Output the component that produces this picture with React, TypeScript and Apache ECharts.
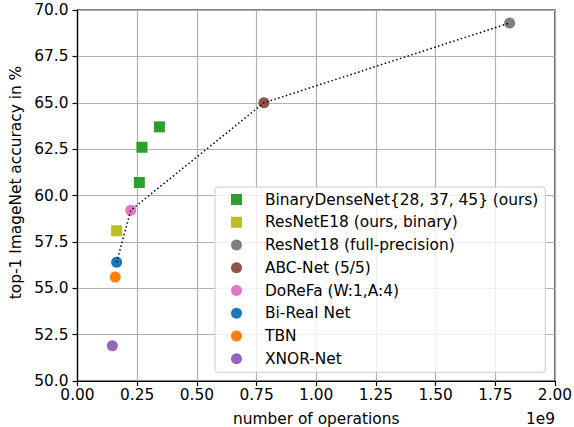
import React, { useEffect, useRef } from "react";
import * as echarts from "echarts";

// x values in units of 1e9 operations, y values = top-1 accuracy (%)
const binaryDenseNetX = [0.259, 0.27, 0.343];
const binaryDenseNetY = [60.7, 62.6, 63.7];
const resNetE18X = [0.164];
const resNetE18Y = [58.1];
const resNet18X = [1.81];
const resNet18Y = [69.3];
const abcNetX = [0.781];
const abcNetY = [65.0];
const doReFaX = [0.223];
const doReFaY = [59.2];
const biRealX = [0.164];
const biRealY = [56.4];
const tbnX = [0.158];
const tbnY = [55.6];
const xnorX = [0.146];
const xnorY = [51.9];

const xTicks = [0, 0.25, 0.5, 0.75, 1.0, 1.25, 1.5, 1.75, 2.0];
const yTicks = [50, 52.5, 55, 57.5, 60, 62.5, 65, 67.5, 70];

const FONT = "DejaVu Sans";
const FS = 15.4;

const zip = (xs: number[], ys: number[]) => xs.map((x, i) => [x, ys[i]]);

export default function App() {
  const ref = useRef<HTMLDivElement>(null);
  useEffect(() => {
    if (!ref.current) return;
    const chart = echarts.init(ref.current, null, { renderer: "svg" });
    const mk = (name: string, xs: number[], ys: number[], color: string, symbol: string) => ({
      name,
      type: "scatter",
      data: zip(xs, ys),
      symbol,
      symbolSize: 11,
      itemStyle: { color, opacity: 1 },
      z: 3,
    });
    const lineX = [biRealX[0], doReFaX[0], abcNetX[0], resNet18X[0]];
    const lineY = [biRealY[0], doReFaY[0], abcNetY[0], resNet18Y[0]];
    chart.setOption({
      animation: false,
      textStyle: { fontFamily: FONT },
      grid: {
        left: 77.5,
        right: 19,
        top: 10,
        bottom: 46,
        containLabel: false,
        outerBoundsMode: "none",
        show: true,
        borderColor: "#000",
        borderWidth: 1.2,
        backgroundColor: "transparent",
      },
      xAxis: {
        type: "value",
        min: xTicks[0],
        max: xTicks[xTicks.length - 1],
        interval: 0.25,
        name: "number of operations",
        nameLocation: "middle",
        nameGap: 30,
        nameTextStyle: { fontSize: FS, color: "#000", fontFamily: FONT },
        axisLine: { show: true, onZero: false, lineStyle: { color: "#000", width: 1.2 } },
        axisTick: { show: true, inside: false, length: 5, lineStyle: { color: "#000", width: 1.2 } },
        axisLabel: {
          fontSize: FS,
          color: "#000",
          margin: 6,
          fontFamily: FONT,
          formatter: (v: number) => v.toFixed(2),
        },
        splitLine: { show: true, lineStyle: { color: "#b0b0b0", width: 1.2 } },
      },
      yAxis: {
        type: "value",
        min: yTicks[0],
        max: yTicks[yTicks.length - 1],
        interval: 2.5,
        name: "top-1 ImageNet accuracy in %",
        nameLocation: "middle",
        nameGap: 52,
        nameTextStyle: {
          fontSize: FS,
          color: "#000",
          fontFamily: FONT,
          padding: [0, 0, 0, 26],
        },
        axisLine: { show: true, onZero: false, lineStyle: { color: "#000", width: 1.2 } },
        axisTick: { show: true, inside: false, length: 5, lineStyle: { color: "#000", width: 1.2 } },
        axisLabel: {
          fontSize: FS,
          color: "#000",
          margin: 9,
          fontFamily: FONT,
          formatter: (v: number) => v.toFixed(1),
        },
        splitLine: { show: true, lineStyle: { color: "#b0b0b0", width: 1.2 } },
      },
      legend: {
        orient: "vertical",
        left: 215,
        top: 187,
        padding: [5, 7, 6, 16],
        itemGap: 7.75,
        itemWidth: 11,
        itemHeight: 11,
        backgroundColor: "rgba(255,255,255,0.8)",
        borderColor: "#cccccc",
        borderWidth: 1,
        borderRadius: 3,
        textStyle: {
          fontSize: FS,
          color: "#000",
          fontFamily: FONT,
          lineHeight: 15,
          padding: [0, 0, 0, 18],
        },
        data: [
          { name: "BinaryDenseNet{28, 37, 45} (ours)", icon: "rect" },
          { name: "ResNetE18 (ours, binary)", icon: "rect" },
          { name: "ResNet18 (full-precision)", icon: "circle" },
          { name: "ABC-Net (5/5)", icon: "circle" },
          { name: "DoReFa (W:1,A:4)", icon: "circle" },
          { name: "Bi-Real Net", icon: "circle" },
          { name: "TBN", icon: "circle" },
          { name: "XNOR-Net", icon: "circle" },
        ],
      },
      graphic: [
        {
          type: "text",
          right: 19,
          top: 411,
          style: { text: "1e9", fontSize: FS, fill: "#000", fontFamily: FONT },
        },
      ],
      series: [
        mk("BinaryDenseNet{28, 37, 45} (ours)", binaryDenseNetX, binaryDenseNetY, "#2ca02c", "rect"),
        mk("ResNetE18 (ours, binary)", resNetE18X, resNetE18Y, "#bcbd22", "rect"),
        mk("ResNet18 (full-precision)", resNet18X, resNet18Y, "#7f7f7f", "circle"),
        mk("ABC-Net (5/5)", abcNetX, abcNetY, "#8c564b", "circle"),
        mk("DoReFa (W:1,A:4)", doReFaX, doReFaY, "#e377c2", "circle"),
        mk("Bi-Real Net", biRealX, biRealY, "#1f77b4", "circle"),
        mk("TBN", tbnX, tbnY, "#ff7f0e", "circle"),
        mk("XNOR-Net", xnorX, xnorY, "#9467bd", "circle"),
        {
          name: "frontier",
          type: "line",
          data: zip(lineX, lineY),
          symbol: "none",
          lineStyle: { color: "#000", width: 1.5, type: [1.5, 2.5] },
          z: 4,
        },
      ],
    });
    return () => chart.dispose();
  }, []);
  return (
    <div
      ref={ref}
      style={{ position: "absolute", left: 0, top: 0, width: 574, height: 427 }}
    />
  );
}
